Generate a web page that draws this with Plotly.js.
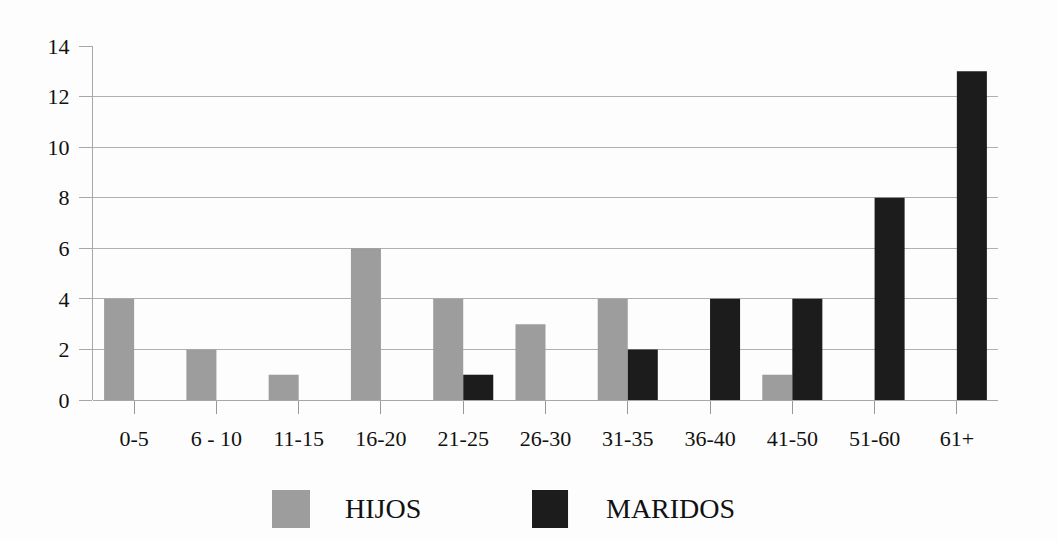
<!DOCTYPE html>
<html>
<head>
<meta charset="utf-8">
<script src="https://cdn.plot.ly/plotly-3.0.1.min.js"></script>
<style>html,body{margin:0;padding:0;background:#fdfdfd;}#chart{width:1058px;height:541px;}</style>
</head>
<body>
<div id="chart"></div>
<script>
const categories = ["0-5", "6 - 10", "11-15", "16-20", "21-25", "26-30", "31-35", "36-40", "41-50", "51-60", "61+"];
const hijos = [4, 2, 1, 6, 4, 3, 4, 0, 1, 0, 0];
const maridos = [0, 0, 0, 0, 1, 0, 2, 4, 4, 8, 13];
const seriesNames = ["HIJOS", "MARIDOS"];
const yTicks = [0, 2, 4, 6, 8, 10, 12, 14];

const grey = "#9d9d9d";
const black = "#1c1c1c";
const font = "Liberation Serif, Times New Roman, serif";

const traces = [
  {type: "bar", name: seriesNames[0], x: categories, y: hijos, marker: {color: grey}},
  {type: "bar", name: seriesNames[1], x: categories, y: maridos, marker: {color: black}}
];

const layout = {
  width: 1058, height: 541,
  margin: {l: 93, r: 60, t: 46, b: 141},
  paper_bgcolor: "#fdfdfd",
  plot_bgcolor: "#fdfdfd",
  barmode: "group",
  bargap: 0.27,
  bargroupgap: 0,
  showlegend: false,
  font: {family: font, size: 20, color: "#1a1a1a"},
  xaxis: {
    type: "category",
    showgrid: false,
    zeroline: false,
    showline: false,
    ticks: "outside", ticklen: 13, tickcolor: "#999", tickwidth: 1,
    ticklabelstandoff: 6,
    tickfont: {family: font, size: 22, color: "#111"}
  },
  yaxis: {
    range: [0, 14],
    tickvals: yTicks,
    showgrid: true, gridcolor: "#b0b0b0", gridwidth: 1,
    zeroline: true, zerolinecolor: "#a8a8a8", zerolinewidth: 1,
    showline: true, linecolor: "#a8a8a8", linewidth: 1,
    ticks: "outside", ticklen: 13, tickcolor: "#a8a8a8", tickwidth: 1,
    ticklabelstandoff: 5,
    tickfont: {family: font, size: 22, color: "#111"}
  },
  shapes: [
    {type: "rect", xref: "paper", yref: "paper", x0: 0.1978, x1: 0.2398, y0: -0.2542, y1: -0.3616, fillcolor: grey, line: {width: 0}},
    {type: "rect", xref: "paper", yref: "paper", x0: 0.4851, x1: 0.5249, y0: -0.2542, y1: -0.3616, fillcolor: black, line: {width: 0}}
  ],
  annotations: [
    {xref: "paper", yref: "paper", x: 0.2762, y: -0.3079, xanchor: "left", yanchor: "middle", text: seriesNames[0], showarrow: false, font: {family: font, size: 28, color: "#111"}},
    {xref: "paper", yref: "paper", x: 0.5646, y: -0.3079, xanchor: "left", yanchor: "middle", text: seriesNames[1], showarrow: false, font: {family: font, size: 28, color: "#111"}}
  ]
};

Plotly.newPlot("chart", traces, layout, {displayModeBar: false, staticPlot: true});
</script>
</body>
</html>
